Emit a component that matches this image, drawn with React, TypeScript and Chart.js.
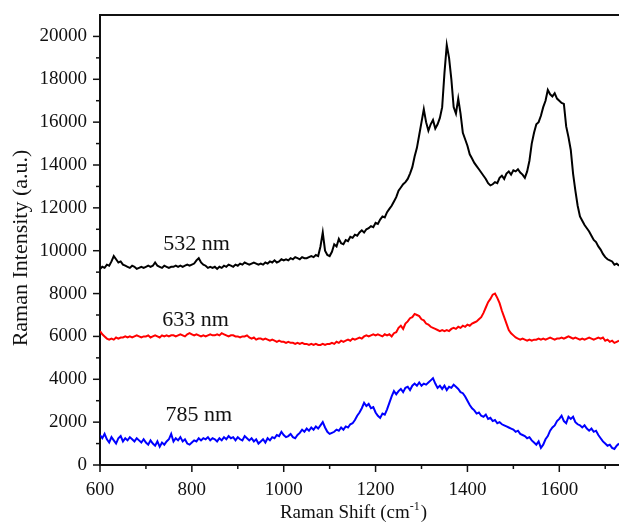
import React, { useEffect, useRef } from "react";
import { Chart, registerables } from "chart.js";

Chart.register(...registerables);

// Raman shift sampling (cm-1): first value and spacing of the readings below
const shiftStart = 600;
const shiftStep = 5;

// Raman intensity (a.u.), one value every 5 cm-1 from 600 to 1730
const black532 = [
  9150, 9250, 9200, 9350, 9300, 9500, 9750, 9600, 9450, 9500, // 600
  9350, 9300, 9250, 9200, 9300, 9250, 9150, 9200, 9250, 9200, // 650
  9250, 9300, 9250, 9300, 9450, 9300, 9250, 9200, 9300, 9250, // 700
  9200, 9250, 9250, 9300, 9250, 9300, 9250, 9300, 9350, 9300, // 750
  9350, 9400, 9550, 9650, 9450, 9350, 9300, 9200, 9250, 9200, // 800
  9250, 9150, 9250, 9200, 9300, 9250, 9350, 9300, 9250, 9350, // 850
  9300, 9400, 9350, 9450, 9400, 9350, 9400, 9450, 9400, 9350, // 900
  9400, 9350, 9450, 9400, 9500, 9450, 9550, 9450, 9500, 9600, // 950
  9550, 9600, 9550, 9650, 9600, 9700, 9650, 9600, 9700, 9650, // 1000
  9650, 9700, 9750, 9700, 9800, 9750, 10200, 10850, 10000, 9800, // 1050
  9750, 9950, 10300, 10200, 10550, 10350, 10300, 10500, 10450, 10650, // 1100
  10600, 10750, 10700, 10850, 10950, 10850, 11000, 11050, 11150, 11100, // 1150
  11300, 11250, 11450, 11600, 11550, 11800, 11950, 12100, 12300, 12500, // 1200
  12800, 12950, 13100, 13200, 13350, 13600, 13900, 14400, 14800, 15400, // 1250
  16000, 16600, 16000, 15600, 15900, 16100, 15700, 15900, 16200, 16700, // 1300
  18300, 19600, 19000, 18000, 16700, 16400, 17100, 16400, 15500, 15200, // 1350
  14900, 14500, 14300, 14100, 13950, 13800, 13650, 13500, 13350, 13150, // 1400
  13050, 13100, 13200, 13150, 13400, 13500, 13350, 13600, 13700, 13550, // 1450
  13750, 13700, 13800, 13650, 13550, 13400, 13700, 14200, 15000, 15500, // 1500
  15900, 16000, 16300, 16700, 17000, 17500, 17300, 17200, 17350, 17100, // 1550
  17000, 16900, 16850, 15800, 15300, 14700, 13600, 12800, 12100, 11600, // 1600
  11400, 11200, 11050, 10900, 10700, 10500, 10400, 10200, 10050, 9850, // 1650
  9700, 9600, 9550, 9500, 9350, 9400, 9300, // 1700
];

const red633 = [
  6250, 6100, 6000, 5900, 5850, 5900, 5850, 5950, 5900, 5950, // 600
  5950, 6000, 5950, 6000, 5950, 6000, 6050, 6000, 5950, 6000, // 650
  6000, 6050, 5950, 6000, 6050, 6000, 5950, 6050, 6000, 6050, // 700
  6000, 6050, 6050, 6000, 6050, 6100, 6050, 6000, 6100, 6150, // 750
  6100, 6050, 6100, 6050, 6000, 6050, 6000, 6050, 6100, 6050, // 800
  6050, 6100, 6050, 6150, 6100, 6050, 6000, 6050, 6050, 6000, // 850
  6000, 5950, 6000, 6000, 6050, 5950, 5900, 5950, 5850, 5900, // 900
  5900, 5850, 5900, 5850, 5800, 5850, 5800, 5750, 5800, 5750, // 950
  5750, 5700, 5750, 5700, 5700, 5650, 5700, 5650, 5700, 5650, // 1000
  5650, 5600, 5650, 5600, 5650, 5600, 5600, 5650, 5600, 5650, // 1050
  5650, 5700, 5650, 5750, 5700, 5800, 5750, 5800, 5850, 5800, // 1100
  5900, 5850, 5900, 5950, 5900, 6000, 6050, 6000, 6050, 6100, // 1150
  6050, 6100, 6050, 6000, 6100, 6050, 6100, 6000, 6150, 6200, // 1200
  6400, 6500, 6350, 6600, 6700, 6850, 6900, 7050, 7000, 6950, // 1250
  6800, 6750, 6600, 6550, 6450, 6400, 6350, 6300, 6250, 6300, // 1300
  6250, 6300, 6250, 6350, 6400, 6350, 6450, 6400, 6500, 6450, // 1350
  6550, 6500, 6600, 6650, 6700, 6800, 6900, 7100, 7350, 7600, // 1400
  7750, 7950, 8000, 7800, 7550, 7200, 6900, 6600, 6300, 6150, // 1450
  6050, 5950, 5900, 5850, 5900, 5850, 5800, 5850, 5800, 5850, // 1500
  5850, 5900, 5850, 5900, 5850, 5900, 5950, 5900, 5850, 5900, // 1550
  5900, 5950, 5900, 5950, 6000, 5950, 5900, 5950, 5900, 5850, // 1600
  5900, 5850, 5900, 5950, 5900, 5850, 5900, 5950, 5900, 5950, // 1650
  5800, 5850, 5750, 5800, 5700, 5750, 5800, // 1700
];

const blue785 = [
  1400, 1250, 1450, 1200, 1050, 1300, 1150, 1000, 1250, 1350, // 600
  1100, 1250, 1150, 1300, 1200, 1100, 1250, 1150, 1050, 1200, // 650
  1050, 950, 1150, 1000, 900, 1100, 850, 1050, 950, 1100, // 700
  1200, 1450, 1100, 1250, 1150, 1300, 1100, 1200, 1000, 950, // 750
  1050, 1150, 1100, 1250, 1150, 1250, 1200, 1300, 1150, 1250, // 800
  1200, 1100, 1250, 1150, 1300, 1200, 1350, 1250, 1300, 1150, // 850
  1300, 1200, 1150, 1350, 1250, 1150, 1250, 1100, 1200, 1000, // 900
  1100, 1200, 1050, 1250, 1150, 1300, 1250, 1400, 1350, 1550, // 950
  1400, 1300, 1350, 1450, 1300, 1250, 1400, 1500, 1650, 1550, // 1000
  1700, 1600, 1750, 1650, 1800, 1700, 1850, 2000, 1750, 1550, // 1050
  1450, 1500, 1550, 1650, 1600, 1750, 1650, 1800, 1750, 1900, // 1100
  1950, 2100, 2300, 2450, 2650, 2900, 2750, 2850, 2650, 2700, // 1150
  2450, 2300, 2200, 2400, 2350, 2600, 2900, 3200, 3450, 3300, // 1200
  3450, 3550, 3400, 3600, 3650, 3500, 3700, 3800, 3700, 3850, // 1250
  3700, 3800, 3750, 3850, 3950, 4050, 3800, 3600, 3700, 3550, // 1300
  3700, 3500, 3650, 3600, 3750, 3650, 3550, 3400, 3350, 3200, // 1350
  3000, 2800, 2650, 2550, 2400, 2450, 2300, 2250, 2350, 2150, // 1400
  2200, 2050, 2100, 1950, 2000, 1900, 1850, 1800, 1750, 1700, // 1450
  1650, 1550, 1600, 1450, 1400, 1350, 1250, 1300, 1150, 1050, // 1500
  950, 1100, 800, 950, 1200, 1350, 1600, 1750, 1850, 2050, // 1550
  2150, 2300, 2050, 1950, 2250, 2150, 2250, 2000, 1900, 1850, // 1600
  1750, 1850, 1700, 1600, 1700, 1550, 1600, 1400, 1250, 1100, // 1650
  1000, 900, 950, 800, 750, 900, 1000, // 1700
];

// Curve labels and where they sit (data coordinates)
const curveLabels = ["532 nm", "633 nm", "785 nm"];
const labelShift = [810, 808, 815];
const labelIntensity = [10300, 6760, 2330];

// Axis ranges and titles
const xMin = 600;
const xMax = 1730;
const yMin = 0;
const yMax = 21000;
const xTitleMain = "Raman Shift (cm";
const xTitleSup = "-1";
const xTitleEnd = ")";
const yTitle = "Raman Intensity (a.u.)";

const SERIF = "'Liberation Serif', 'Times New Roman', Times, serif";

export default function App() {
  const ref = useRef<HTMLCanvasElement>(null);

  useEffect(() => {
    document.body.style.margin = "0";
    const canvas = ref.current;
    if (!canvas) return;

    const toPts = (arr: number[]) =>
      arr.map((v, i) => ({ x: shiftStart + i * shiftStep, y: v }));

    const framePlugin = {
      id: "frameAndText",
      afterDraw(chart: any) {
        const { ctx, chartArea } = chart;
        const { left, right, top, bottom } = chartArea;
        const xs = chart.scales.x;
        const ys = chart.scales.y;
        ctx.save();
        ctx.strokeStyle = "#111";
        ctx.lineWidth = 2;
        // top frame line
        ctx.beginPath();
        ctx.moveTo(left - 1, top);
        ctx.lineTo(right, top);
        ctx.stroke();
        // x tick marks
        ctx.lineWidth = 1.5;
        xs.ticks.forEach((t: any) => {
          if (t.value % 100 !== 0) return;
          const px = xs.getPixelForValue(t.value);
          const len = t.value % 200 === 0 ? 7 : 4;
          ctx.beginPath();
          ctx.moveTo(px, bottom);
          ctx.lineTo(px, bottom + len);
          ctx.stroke();
        });
        // y tick marks
        ys.ticks.forEach((t: any) => {
          if (t.value % 1000 !== 0 || t.value > 20000) return;
          const py = ys.getPixelForValue(t.value);
          const len = t.value % 2000 === 0 ? 7 : 4;
          ctx.beginPath();
          ctx.moveTo(left, py);
          ctx.lineTo(left - len, py);
          ctx.stroke();
        });
        // curve labels
        ctx.fillStyle = "#111";
        ctx.font = `22px ${SERIF}`;
        ctx.textAlign = "center";
        ctx.textBaseline = "middle";
        curveLabels.forEach((s, i) => {
          ctx.fillText(
            s,
            xs.getPixelForValue(labelShift[i]),
            ys.getPixelForValue(labelIntensity[i])
          );
        });
        // x title with superscript
        const mainFont = `19px ${SERIF}`;
        const supFont = `12px ${SERIF}`;
        ctx.textAlign = "left";
        ctx.textBaseline = "alphabetic";
        ctx.font = mainFont;
        const w1 = ctx.measureText(xTitleMain).width;
        const w3 = ctx.measureText(xTitleEnd).width;
        ctx.font = supFont;
        const w2 = ctx.measureText(xTitleSup).width;
        const total = w1 + w2 + 1 + w3;
        const cx = (left + right) / 2 - 6;
        const baseY = bottom + 53;
        let sx = cx - total / 2;
        ctx.font = mainFont;
        ctx.fillText(xTitleMain, sx, baseY);
        sx += w1;
        ctx.font = supFont;
        ctx.fillText(xTitleSup, sx, baseY - 8);
        sx += w2 + 1;
        ctx.font = mainFont;
        ctx.fillText(xTitleEnd, sx, baseY);
        // y title
        ctx.save();
        ctx.translate(27, (top + bottom) / 2 + 8);
        ctx.rotate(-Math.PI / 2);
        ctx.font = `22px ${SERIF}`;
        ctx.textAlign = "center";
        ctx.textBaseline = "alphabetic";
        ctx.fillText(yTitle, 0, 0);
        ctx.restore();
        ctx.restore();
      },
    };

    const chart = new Chart(canvas, {
      type: "line",
      data: {
        datasets: [
          {
            data: toPts(black532),
            borderColor: "#000000",
            borderWidth: 2,
            pointRadius: 0,
            tension: 0,
          },
          {
            data: toPts(red633),
            borderColor: "#ff0000",
            borderWidth: 2,
            pointRadius: 0,
            tension: 0,
          },
          {
            data: toPts(blue785),
            borderColor: "#0000ff",
            borderWidth: 2,
            pointRadius: 0,
            tension: 0,
          },
        ],
      },
      options: {
        animation: false,
        responsive: false,
        layout: { padding: { top: 15, right: 0, left: 0, bottom: 0 } },
        plugins: {
          legend: { display: false },
          tooltip: { enabled: false },
        },
        scales: {
          x: {
            type: "linear",
            min: xMin,
            max: xMax,
            grid: { display: false, drawTicks: false },
            border: { display: true, color: "#111", width: 2 },
            ticks: {
              stepSize: 100,
              includeBounds: false,
              autoSkip: false,
              maxRotation: 0,
              padding: 14,
              color: "#111",
              font: { family: SERIF, size: 19 },
              callback: (v: any) => (Number(v) % 200 === 0 ? String(v) : ""),
            },
            afterFit: (s: any) => {
              s.height = 59;
              s.paddingLeft = 0;
              s.paddingRight = 0;
            },
          },
          y: {
            type: "linear",
            min: yMin,
            max: yMax,
            grid: { display: false, drawTicks: false },
            border: { display: true, color: "#111", width: 2 },
            ticks: {
              stepSize: 1000,
              includeBounds: false,
              autoSkip: false,
              padding: 13,
              color: "#111",
              font: { family: SERIF, size: 19 },
              callback: (v: any) =>
                Number(v) % 2000 === 0 && Number(v) <= 20000 ? String(v) : "",
            },
            afterFit: (s: any) => {
              s.width = 100;
              s.paddingTop = 0;
              s.paddingBottom = 0;
            },
          },
        },
      },
      plugins: [framePlugin],
    });

    return () => chart.destroy();
  }, []);

  return (
    <div style={{ width: 619, height: 524 }}>
      <canvas ref={ref} width={619} height={524} style={{ display: "block" }} />
    </div>
  );
}
